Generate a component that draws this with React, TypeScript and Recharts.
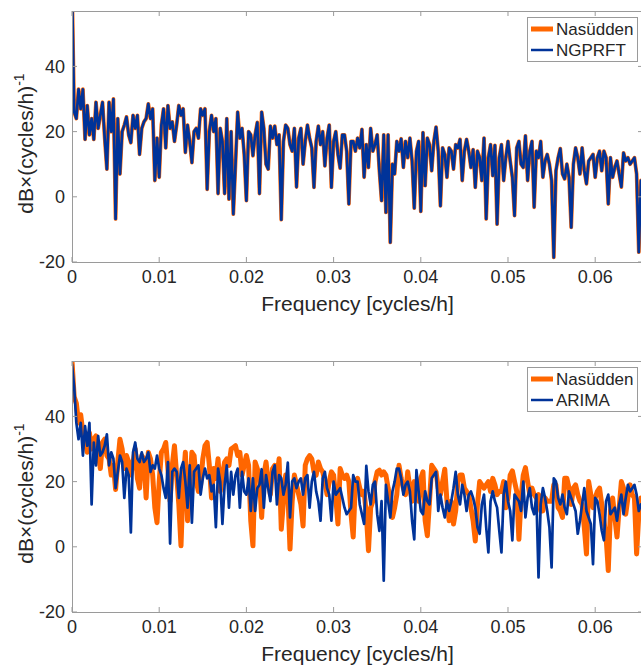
import { LineChart, Line, XAxis, YAxis } from "recharts";

// Spektra: uppmätt (Nasüdden) mot modell, två paneler.
// Frekvensrutnät med konstant steg (dB).

const DF = 0.00025; // cycles/h per sample
const xTicks = [0, 0.01, 0.02, 0.03, 0.04, 0.05, 0.06];
const yTicks = [-20, 0, 20, 40];

const nasuddenTop = [
  65, 26, 24, 33, 27, 33, 17.6, 28, 19, 24,
  17.6, 29, 21, 25, 29, 18, 8.5, 29, 20, 30,
  -6.8, 24, 7, 20, 22, 24.5, 19, 16.6, 25, 21,
  25, 13, 21, 23, 24, 28.5, 24, 27, 5, 18,
  6, 22, 27, 15, 28, 21, 23, 17, 22, 28,
  25, 27, 13.6, 22, 17, 10.5, 20, 21, 18, 27,
  25, 27, 2.3, 20, 25, 20, 24, 1, 21, 17,
  1, 24, -0.7, 20, -5.3, 10, 26, 18, 21, 13,
  -1.2, 20, 19, 12.6, 19, 22.8, 1, 26, 21, 10,
  8.5, 21.7, 18, 21.7, 16, 19, -7, 17, 22, 21,
  16, 14, 21, 3, 18, 21, 10, 17, 22, 18,
  15, 2.9, 17, 21.7, 16, 20, 9.5, 18, 22, 2.9,
  17, 20, 13, 8.8, 19, 19, 14, -2.2, 17, 17,
  14, 18, 15, 20.7, 6, 16, 9, 21, 14, 16,
  19, 8, -1.2, 19, -4.8, 19, -14, 10, 7, 17,
  14, 17.8, 9, 17, 12, 18, 11, -3.5, 14, 17,
  -4.5, 19.7, 3.4, 18, 16, 8, 17, 21.4, 14, -2.8,
  15, 13, 6, 15, 14, 8.5, 16, 15, 17.6, 5,
  14, 17.6, 14, 9, 14.5, 2.9, 14, 12, 5, 18,
  -6.8, 12, 16, 6.5, 15.8, -8.4, 12, 16, 5, 12,
  17, 11, 6, -5.8, 15, 17, 10, 9, 18.7, 5,
  14, 17, -3.2, 14, 12, 17, 6, 11, 13, 10,
  5, -18.6, 8, 12, 14.8, 7, 5.5, 10, 6, -9.4,
  10, 15, 12, 7, 15, 8, 4, 11, 12, 13,
  6, 12, 14, 8, 14, 12, -2.2, 12, 6, 9,
  11, 7, 3, 13.5, 11, 12, 10, 11, 12, 7, -17, 5,
];

// NGPRFT ligger praktiskt taget ovanpå mätningen i bilden
const ngprftTop = [...nasuddenTop];

const nasuddenBottom = [
  57, 46, 44, 38, 40.5, 35, 33, 29, 35, 30,
  33, 34, 29, 24, 32, 33, 28, 27, 22, 25,
  17.6, 26, 33, 30, 24, 28, 26, 22, 26, 30,
  21, 18, 28, 27, 15, 29, 27, 22, 12, 7.4,
  20, 29, 30, 32, 24, 14, 25, 31, 22, 13,
  0.3, 20, 29, 8, 18, 29, 28, 20, 17, 19,
  27, 31, 32, 25, 15, 24, 21, 27, 17, 22,
  26, 27, 25, 30, 30.5, 31, 28, 29, 22, 25,
  28, 25, 8, 0.3, 26, 24, 21, 9, 22, 26,
  20, 16, 24, 25, 21, 27, 5.4, 14, 22, 17,
  -0.7, 14, 22, 19, 16, 13, 6.4, 25, 27, 28,
  27, 23, 22, 26, 24, 23, 20, 16, 20, 23,
  22, 15, 7, 24, 22, 21, 22, 20, 10, 3,
  20, 21, 18, 16, 17, 10, -1.2, 12, 14, 20,
  23, 23.5, 22, 23, 22, 18, 15, 9, 12, 16,
  25, 21, 18, 16, 23, 18, 14, 20, 19, 14,
  21, 23, 8, 3.4, 14, 25, 24, 23, 18, 16,
  20, 23.8, 14, 8, 14, 7, 11, 20, 22, 22,
  18, 17, 16, 12, 8, 1.8, 13, 20, 19, 18,
  19, 20, 17, 21, 19, 16, 17, 17, 20, 12,
  15, 22, 23.3, 20, 17, 2.3, 15, 22, 24.3, 20,
  16, 18, 16, 15, 16, 11, 11, 15, 14, 14,
  14, 19, 19, 12, 11, 9, 21, 21, 18, 13,
  18, 19, 16, 14, 13, 6, -2.2, 20, 16, 12,
  15, 17, 18, 13, 8, 3, -7.3, 11, 15, 9,
  3, 12, 20, 18, 10, 15, 19, 16, 15, -2.2, 10, 15,
];

const arimaBottom = [
  56, 49, 38, 33, 38, 28, 37, 31, 38, 13,
  32, 25, 34, 28, 29, 31, 34.5, 25, 29, 27,
  18, 23, 28, 26, 15, 24, 22, 4.4, 29, 32,
  27, 26, 29, 26, 27, 29, 23, 25, 24, 28,
  24, 22, 18, 15, 26, 1, 23, 24, 23, 15,
  24, 26, 20, 12, 25, 7.4, 23, 24, 25, 16,
  21, 24, 21, 22, 17, 19, 6, 24, 20, 7,
  19, 25, 12, 23, 16, 22, 24, 12, 23, 17,
  16, 21, 11, 21, 11, 18, 19, 23.8, 12, 22,
  18, 14, 23, 25, 13, 22, 21, 16, 19, 25.8,
  9, 20, 21, 18, 20, 21, 16, 21, 22, 12,
  20, 23, 17, 14, 8, 21, 23, 18, 16, 8,
  20, 16, 17, 18, 15, 12, 10, 11, 12, 22,
  20, 20, 13, 10, 7, 24.8, 17, 13, 19, 20,
  10, 4.9, 14, -10.4, 19, 14, 9, 17, 20, 24,
  24, 21, 16, 19, 20, 17, 8, 2.3, 23.5, 17,
  11, 10, 17, 14, 13, 21, 22, 23, 11, 16,
  12, 9, 14, 11, 14, 18, 23, 16, 13, 19,
  16, 11, 16, 17, 15, 12, 6, 4, 13, 16,
  6, -1.7, 14, 17, 14, 12, 5, -1.7, 16, 20,
  14, 11, 2, 16, 15, 14, 11, 20, 9, 15,
  18, 12, 10, 16, -9.4, 13, 18, 15, 11, 6,
  -6.3, 21, 20, 15, 13, 16, 12, 10, 17, 15,
  13, 11, 4, 8, 13, 18, 11, 9, 7, -5.3,
  15, 14, 10, 5, 2, 14, 16, 10, 11, 12,
  8, 13, 16, 10, 15, 19, 17, 18, 19, 16, 11, 13,
];

// ---------------------------------------------------------------------------

const ORANGE = "#ff6600";
const BLUE = "#003399";
const AXIS = "#9a9a9a";
const TEXT = "#262626";
const FONT = '"Liberation Sans", Arial, Helvetica, sans-serif';

const CW = 660; // chart box (clipped on the right, as in the figure)
const CH = 330;
const PL = 64; // plot left
const PT = 3; // plot top
const PW = 571;
const PH = 251;
const X_MAX = 0.065482;

function buildRows(obs: number[], model: number[]) {
  return obs.map((v, i) => ({ f: +(i * DF).toFixed(5), obs: v, model: model[i] }));
}

function XTick({ x, y, payload }: any) {
  const v = payload.value as number;
  return (
    <g>
      <line x1={x} x2={x} y1={y} y2={y - 5} stroke={AXIS} />
      <line x1={x} x2={x} y1={y - PH} y2={y - PH + 5} stroke={AXIS} />
      <text x={x} y={y + 21} textAnchor="middle" fontSize={18} fill={TEXT} fontFamily={FONT}>
        {v === 0 ? "0" : v.toFixed(2)}
      </text>
    </g>
  );
}

function YTick({ x, y, payload }: any) {
  return (
    <g>
      <line x1={x} x2={x + 5} y1={y} y2={y} stroke={AXIS} />
      <line x1={x + PW} x2={x + PW - 5} y1={y} y2={y} stroke={AXIS} />
      <text x={x - 7} y={y} dy="0.35em" textAnchor="end" fontSize={18} fill={TEXT} fontFamily={FONT}>
        {payload.value}
      </text>
    </g>
  );
}

interface PanelProps {
  top: number;
  obs: number[];
  model: number[];
  modelName: string;
  obsWidth: number;
}

function Panel({ top, obs, model, modelName, obsWidth }: PanelProps) {
  const rows = buildRows(obs, model);
  return (
    <div style={{ position: "absolute", left: 0, top, width: CW, height: CH }}>
      <LineChart
        width={CW}
        height={CH}
        data={rows}
        margin={{ top: PT, left: PL - 1, right: CW - PL - PW, bottom: CH - PT - PH - 1 }}
      >
        <XAxis
          dataKey="f"
          type="number"
          domain={[0, X_MAX]}
          allowDataOverflow
          ticks={xTicks}
          interval={0}
          height={1}
          tickSize={0}
          tickMargin={0}
          axisLine={false}
          tickLine={false}
          tick={<XTick />}
        />
        <YAxis
          type="number"
          domain={[-20, 57]}
          allowDataOverflow
          ticks={yTicks}
          interval={0}
          width={1}
          tickSize={0}
          tickMargin={0}
          axisLine={false}
          tickLine={false}
          tick={<YTick />}
        />
        <Line
          type="linear"
          dataKey="obs"
          stroke={ORANGE}
          strokeWidth={obsWidth}
          strokeLinejoin="round"
          strokeLinecap="round"
          dot={false}
          isAnimationActive={false}
        />
        <Line
          type="linear"
          dataKey="model"
          stroke={BLUE}
          strokeWidth={2.7}
          strokeLinejoin="round"
          strokeLinecap="round"
          dot={false}
          isAnimationActive={false}
        />
      </LineChart>
      <svg
        width={CW}
        height={CH}
        style={{ position: "absolute", left: 0, top: 0, pointerEvents: "none" }}
        fontFamily={FONT}
      >
        <rect x={PL + 0.5} y={PT + 0.5} width={PW} height={PH} fill="none" stroke={AXIS} />
        <text x={PL + PW / 2} y={303} textAnchor="middle" fontSize={21} fill={TEXT}>
          Frequency [cycles/h]
        </text>
        <text transform={`translate(24.5, ${PT + PH / 2 + 7}) rotate(-90)`} textAnchor="middle" fontSize={21} fill={TEXT}>
          dB×(cycles/h)
          <tspan dy={-9} fontSize={14}>-1</tspan>
        </text>
        <g>
          <rect x={519.5} y={9.5} width={110} height={44} fill="#fff" stroke={AXIS} />
          <line x1={523} x2={545} y1={21} y2={21} stroke={ORANGE} strokeWidth={5} />
          <text x={548} y={21} dy="0.35em" fontSize={17} fill={TEXT}>
            Nasüdden
          </text>
          <line x1={523} x2={545} y1={42} y2={42} stroke={BLUE} strokeWidth={2.5} />
          <text x={548} y={42} dy="0.35em" fontSize={17} fill={TEXT}>
            {modelName}
          </text>
        </g>
      </svg>
    </div>
  );
}

export default function App() {
  // absolut placerad så att sidan inte får rullningslister (641×669)
  return (
    <div
      style={{
        position: "absolute",
        left: 8,
        top: 8,
        width: 633,
        height: 661,
        overflow: "hidden",
        background: "#fff",
      }}
    >
      <Panel top={0} obs={nasuddenTop} model={ngprftTop} modelName="NGPRFT" obsWidth={3.8} />
      <Panel top={350} obs={nasuddenBottom} model={arimaBottom} modelName="ARIMA" obsWidth={5} />
    </div>
  );
}
